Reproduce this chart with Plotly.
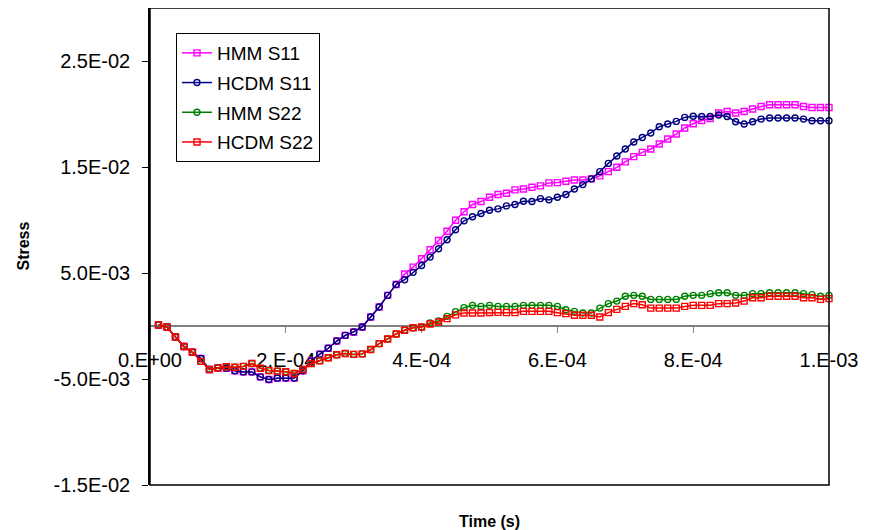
import plotly.graph_objects as go

# time (s)
TIME = [1.25e-5, 2.5e-5, 3.75e-5, 5.0e-5, 6.25e-5, 7.5e-5, 8.75e-5, 1.0e-4,
        1.125e-4, 1.25e-4, 1.375e-4, 1.5e-4, 1.625e-4, 1.75e-4, 1.875e-4, 2.0e-4,
        2.125e-4, 2.25e-4, 2.375e-4, 2.5e-4, 2.625e-4, 2.75e-4, 2.875e-4, 3.0e-4,
        3.125e-4, 3.25e-4, 3.375e-4, 3.5e-4, 3.625e-4, 3.75e-4, 3.875e-4, 4.0e-4,
        4.125e-4, 4.25e-4, 4.375e-4, 4.5e-4, 4.625e-4, 4.75e-4, 4.875e-4, 5.0e-4,
        5.125e-4, 5.25e-4, 5.375e-4, 5.5e-4, 5.625e-4, 5.75e-4, 5.875e-4, 6.0e-4,
        6.125e-4, 6.25e-4, 6.375e-4, 6.5e-4, 6.625e-4, 6.75e-4, 6.875e-4, 7.0e-4,
        7.125e-4, 7.25e-4, 7.375e-4, 7.5e-4, 7.625e-4, 7.75e-4, 7.875e-4, 8.0e-4,
        8.125e-4, 8.25e-4, 8.375e-4, 8.5e-4, 8.625e-4, 8.75e-4, 8.875e-4, 9.0e-4,
        9.125e-4, 9.25e-4, 9.375e-4, 9.5e-4, 9.625e-4, 9.75e-4, 9.875e-4, 1.0e-3]

HMM_S11 = [0.00009, -0.00009, -0.00104, -0.00194, -0.00248, -0.00307, -0.00410, -0.00395,
           -0.00398, -0.00422, -0.00433, -0.00433, -0.00480, -0.00505, -0.00492, -0.00490,
           -0.00490, -0.00422, -0.00329, -0.00266, -0.00210, -0.00142, -0.00088, -0.00056,
           -0.00009, 0.00085, 0.00179, 0.00289, 0.00391, 0.00490, 0.00555, 0.00634,
           0.00719, 0.00807, 0.00894, 0.00998, 0.01078, 0.01146, 0.01174, 0.01214,
           0.01240, 0.01252, 0.01284, 0.01293, 0.01309, 0.01322, 0.01350, 0.01353,
           0.01365, 0.01378, 0.01378, 0.01388, 0.01416, 0.01456, 0.01497, 0.01548,
           0.01598, 0.01638, 0.01670, 0.01717, 0.01764, 0.01811, 0.01868, 0.01908,
           0.01939, 0.01958, 0.02009, 0.02024, 0.02009, 0.02024, 0.02047, 0.02071,
           0.02087, 0.02087, 0.02087, 0.02087, 0.02071, 0.02062, 0.02062, 0.02062]

HCDM_S11 = [0.00009, -0.00009, -0.00104, -0.00194, -0.00248, -0.00307, -0.00410, -0.00395,
            -0.00398, -0.00422, -0.00433, -0.00433, -0.00480, -0.00505, -0.00492, -0.00490,
            -0.00490, -0.00422, -0.00329, -0.00266, -0.00210, -0.00142, -0.00088, -0.00056,
            -0.00009, 0.00085, 0.00179, 0.00289, 0.00391, 0.00437, 0.00506, 0.00571,
            0.00650, 0.00729, 0.00813, 0.00908, 0.00992, 0.01030, 0.01061, 0.01092,
            0.01105, 0.01133, 0.01146, 0.01177, 0.01174, 0.01202, 0.01190, 0.01214,
            0.01240, 0.01293, 0.01334, 0.01388, 0.01456, 0.01534, 0.01604, 0.01670,
            0.01736, 0.01779, 0.01821, 0.01880, 0.01905, 0.01930, 0.01968, 0.01979,
            0.01976, 0.01977, 0.01990, 0.01977, 0.01927, 0.01905, 0.01927, 0.01952,
            0.01962, 0.01962, 0.01962, 0.01962, 0.01952, 0.01936, 0.01936, 0.01936]

HMM_S22 = [0.00009, -0.00009, -0.00104, -0.00194, -0.00248, -0.00334, -0.00410, -0.00396,
           -0.00385, -0.00389, -0.00381, -0.00354, -0.00398, -0.00420, -0.00426, -0.00431,
           -0.00448, -0.00410, -0.00354, -0.00329, -0.00299, -0.00271, -0.00260, -0.00268,
           -0.00263, -0.00222, -0.00166, -0.00122, -0.00075, -0.00040, -0.00017, -0.00009,
           0.00028, 0.00047, 0.00091, 0.00136, 0.00173, 0.00195, 0.00185, 0.00195,
           0.00185, 0.00185, 0.00185, 0.00195, 0.00195, 0.00195, 0.00195, 0.00185,
           0.00154, 0.00138, 0.00122, 0.00122, 0.00169, 0.00211, 0.00235, 0.00280,
           0.00289, 0.00280, 0.00251, 0.00251, 0.00251, 0.00251, 0.00280, 0.00289,
           0.00289, 0.00305, 0.00314, 0.00314, 0.00289, 0.00289, 0.00305, 0.00305,
           0.00314, 0.00314, 0.00314, 0.00314, 0.00305, 0.00296, 0.00280, 0.00289]

HCDM_S22 = [0.00009, -0.00009, -0.00104, -0.00194, -0.00248, -0.00334, -0.00410, -0.00396,
            -0.00385, -0.00389, -0.00381, -0.00354, -0.00398, -0.00420, -0.00426, -0.00431,
            -0.00448, -0.00410, -0.00354, -0.00329, -0.00299, -0.00271, -0.00260, -0.00268,
            -0.00263, -0.00222, -0.00166, -0.00122, -0.00075, -0.00040, -0.00017, -0.00009,
            0.00019, 0.00038, 0.00070, 0.00105, 0.00122, 0.00122, 0.00122, 0.00127,
            0.00129, 0.00126, 0.00126, 0.00138, 0.00138, 0.00138, 0.00138, 0.00126,
            0.00117, 0.00101, 0.00101, 0.00101, 0.00085, 0.00126, 0.00157, 0.00185,
            0.00211, 0.00201, 0.00169, 0.00169, 0.00169, 0.00169, 0.00185, 0.00195,
            0.00195, 0.00195, 0.00211, 0.00211, 0.00217, 0.00235, 0.00267, 0.00267,
            0.00280, 0.00280, 0.00280, 0.00280, 0.00267, 0.00267, 0.00251, 0.00258]

SERIES = [
    ("HMM S11", HMM_S11, "#FF00FF", "square-open"),
    ("HCDM S11", HCDM_S11, "#000080", "circle-open"),
    ("HMM S22", HMM_S22, "#008000", "circle-open"),
    ("HCDM S22", HCDM_S22, "#FF0000", "square-open"),
]

X_TICKS = [0, 2e-4, 4e-4, 6e-4, 8e-4, 1e-3]
X_TICK_TEXT = ["0.E+00", "2.E-04", "4.E-04", "6.E-04", "8.E-04", "1.E-03"]
Y_TICKS = [-0.015, -0.005, 0.005, 0.015, 0.025]
Y_TICK_TEXT = ["-1.5E-02", "-5.0E-03", "5.0E-03", "1.5E-02", "2.5E-02"]

FONT = "Liberation Sans, Arial, sans-serif"

# the page body has an 8px margin, so the figure is sized to fit inside the window
W, H = 867, 522
ML, MR, MT, MB = 142, 46, 0, 45
PW = W - ML - MR
PH = H - MT - MB

fig = go.Figure()
for i, (name, vals, color, sym) in enumerate(SERIES):
    fig.add_trace(go.Scatter(
        x=TIME, y=vals, name=name, mode="lines+markers",
        legendgroup=f"g{i}",
        line=dict(color=color, width=1.5),
        marker=dict(symbol=sym, size=6, color=color, line=dict(color=color, width=1.4)),
        cliponaxis=False,
    ))

fig.update_layout(
    width=W, height=H,
    margin=dict(l=ML, r=MR, t=MT, b=MB, autoexpand=False),
    paper_bgcolor="white", plot_bgcolor="white",
    font=dict(family=FONT, size=19, color="black"),
    showlegend=True,
    legend=dict(
        x=(168 - ML) / PW, y=1 - (25 - MT) / PH, xanchor="left", yanchor="top",
        bgcolor="white", bordercolor="black", borderwidth=1,
        font=dict(family=FONT, size=19, color="black"),
        tracegroupgap=2,
    ),
    xaxis=dict(
        range=[0, 0.001], tickvals=X_TICKS, ticktext=X_TICK_TEXT,
        anchor="free", position=1/3,
        showline=True, linecolor="#808080", linewidth=1.5,
        ticks="outside", ticklen=6, tickcolor="#808080", tickwidth=1,
        showgrid=False, zeroline=False, ticklabelstandoff=10,
        tickfont=dict(family=FONT, size=20, color="black"),
        layer="below traces",
    ),
    yaxis=dict(
        range=[-0.015, 0.03], tickvals=Y_TICKS, ticktext=Y_TICK_TEXT,
        showline=True, linecolor="black", linewidth=1.5,
        ticks="outside", ticklen=6, tickcolor="black", tickwidth=1,
        showgrid=False, zeroline=False, ticklabelstandoff=8,
        tickfont=dict(family=FONT, size=20, color="black"),
    ),
    shapes=[dict(type="rect", xref="paper", yref="paper", x0=0, x1=1, y0=0, y1=1,
                 line=dict(color="black", width=1.5), layer="above")],
    annotations=[
        dict(text="<b>Stress</b>", xref="paper", yref="paper", x=(15 - ML) / PW, y=0.5,
             textangle=-90, showarrow=False, font=dict(family=FONT, size=16, color="black"),
             xanchor="center", yanchor="middle"),
        dict(text="<b>Time (s)</b>", xref="paper", yref="paper", x=0.5, y=(PH - 513) / PH,
             showarrow=False, font=dict(family=FONT, size=16, color="black"),
             xanchor="center", yanchor="middle"),
    ],
)

fig.write_html("out.html")
